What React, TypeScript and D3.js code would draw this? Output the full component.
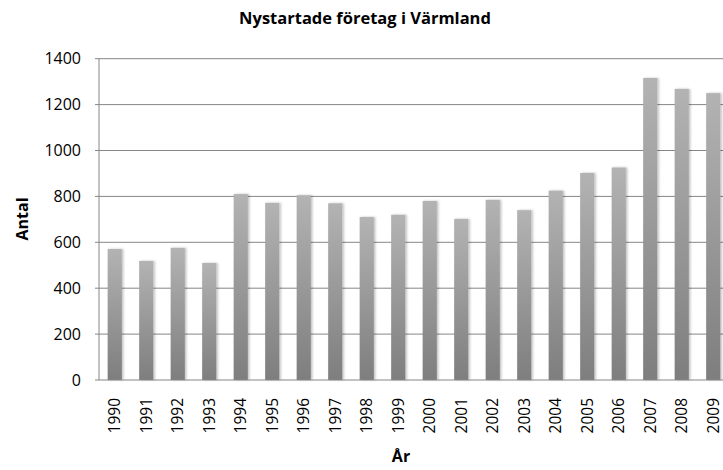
import React from "react";
import * as d3 from "d3";

// data
const years = ["1990", "1991", "1992", "1993", "1994", "1995", "1996", "1997", "1998", "1999",
  "2000", "2001", "2002", "2003", "2004", "2005", "2006", "2007", "2008", "2009"];
const antal = [571, 519, 576, 510, 810, 772, 805, 770, 710, 720,
  780, 702, 785, 740, 825, 902, 926, 1316, 1268, 1250];
const yTicks = [0, 200, 400, 600, 800, 1000, 1200, 1400];

const W = 723;
const H = 470;
const margin = { top: 58.7, left: 99, right: -6, bottom: 90 };
const font = "'Open Sans', 'Liberation Sans', sans-serif";

export default function App() {
  const x = d3.scaleBand<string>()
    .domain(years)
    .range([margin.left, W - margin.right])
    .paddingInner(0.55)
    .paddingOuter(0.275);

  const y = d3.scaleLinear()
    .domain([0, 1400])
    .range([380, margin.top]);

  const grid = "#868686";

  return (
    <svg width={W} height={H} style={{ position: "absolute", left: 0, top: 0, background: "#fff" }}>
      <defs>
        <linearGradient id="barGrad" x1="0" y1="0" x2="0" y2="1">
          <stop offset="0%" stopColor="#b3b3b3" />
          <stop offset="100%" stopColor="#7e7e7e" />
        </linearGradient>
        <filter id="shadow" x="-30%" y="-5%" width="160%" height="110%">
          <feDropShadow dx="1.5" dy="0" stdDeviation="1" floodColor="#000" floodOpacity="0.25" />
        </filter>
      </defs>

      <text x={365} y={24} textAnchor="middle" fontFamily={font} fontWeight="bold" fontSize={16.5} fill="#000">
        Nystartade företag i Värmland
      </text>

      {/* grid lines */}
      {yTicks.filter(t => t > 0).map(t => (
        <line key={t} x1={margin.left} x2={W} y1={y(t)} y2={y(t)} stroke={grid} strokeWidth={1} />
      ))}

      {/* bars */}
      {years.map((yr, i) => (
        <rect key={yr}
          x={x(yr)}
          y={y(antal[i])}
          width={x.bandwidth()}
          height={y(0) - y(antal[i])}
          fill="url(#barGrad)"
          filter="url(#shadow)" />
      ))}

      {/* axes */}
      <line x1={margin.left} x2={margin.left} y1={margin.top} y2={y(0)} stroke={grid} strokeWidth={1} />
      <line x1={margin.left} x2={W} y1={y(0)} y2={y(0)} stroke={grid} strokeWidth={1} />
      {yTicks.map(t => (
        <g key={t}>
          <line x1={margin.left - 4} x2={margin.left} y1={y(t)} y2={y(t)} stroke={grid} strokeWidth={1} />
          <text x={81} y={y(t)} dy="0.35em" textAnchor="end" fontFamily={font} fontSize={16} fill="#000">{t}</text>
        </g>
      ))}

      {years.map(yr => {
        const cx = (x(yr) || 0) + x.bandwidth() / 2;
        return (
          <text key={yr} transform={`translate(${cx},398) rotate(-90)`} dy="0.35em" textAnchor="end"
            fontFamily={font} fontSize={15.5} fill="#000">{yr}</text>
        );
      })}

      <text x={401} y={462} textAnchor="middle" fontFamily={font} fontWeight="bold" fontSize={16} fill="#000">År</text>
      <text transform={`translate(28,219) rotate(-90)`} textAnchor="middle" fontFamily={font} fontWeight="bold" fontSize={16} fill="#000">Antal</text>
    </svg>
  );
}
